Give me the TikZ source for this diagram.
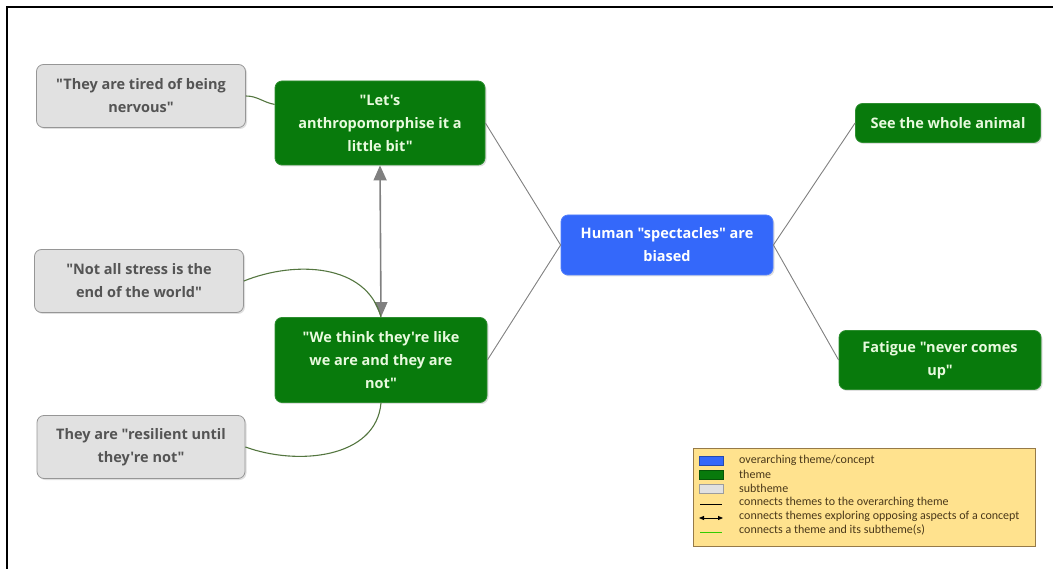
\documentclass[tikz,border=0pt]{standalone}
\usepackage{fontspec}
\setmainfont{Open Sans}[Ligatures=TeXOff]
\newfontfamily\keyfont{Carlito}
\usetikzlibrary{arrows.meta}
\usetikzlibrary{shadows}

\definecolor{themegreen}{RGB}{8,122,12}
\definecolor{themetext}{RGB}{232,250,222}
\definecolor{mainblue}{RGB}{52,104,250}
\definecolor{subgray}{RGB}{225,225,225}
\definecolor{subedge}{RGB}{150,150,150}
\definecolor{subtext}{RGB}{84,84,84}
\definecolor{linkgray}{RGB}{128,128,128}
\definecolor{sublinkgreen}{RGB}{84,118,64}
\definecolor{legendfill}{RGB}{255,226,142}
\definecolor{legendedge}{RGB}{150,122,72}
\definecolor{legendtext}{RGB}{74,56,26}

\begin{document}
\begin{tikzpicture}[
      x=1pt, y=-1pt,
      box/.style={rounded corners=7pt, line width=0.8pt, align=center,
        inner sep=0pt, font=\bfseries\fontsize{14.5}{23}\selectfont,
        drop shadow={opacity=0.25, shadow xshift=1.5pt, shadow yshift=-1.5pt}},
      theme/.style={box, fill=themegreen, draw=themegreen!85!white, text=themetext},
      subtheme/.style={box, fill=subgray, draw=subedge, text=subtext},
      overarching/.style={box, fill=mainblue, draw=mainblue!85!white, text=white},
      link/.style={draw=linkgray, line width=0.9pt},
      sublink/.style={draw=sublinkgreen, line width=1.1pt},
      opposing/.style={draw=linkgray, line width=1.6pt,
        {Triangle[width=13pt,length=15pt]}-{Triangle[width=13pt,length=15pt]}},
      swatch/.style={draw=#1!70!black, fill=#1, minimum width=24pt, minimum height=9pt, inner sep=0pt},
      legendrow/.style={anchor=west, inner sep=0pt, text=legendtext, font=\keyfont\fontsize{12}{13}\selectfont}
    ]
    \useasboundingbox (0,0) rectangle (1053,569);
    % frame
    \draw[line width=2pt] (7,569) -- (7,7) -- (1053,7);

    % overarching theme and themes
    \node[overarching, minimum width=212pt, minimum height=60pt] (humanbox) at (667,245)
      {Human "spectacles" are\\biased};
    \node[theme, minimum width=210pt, minimum height=84pt] (letsbox) at (380,123)
      {"Let's\\anthropomorphise it a\\little bit"};
    \node[theme, minimum width=212pt, minimum height=85pt] (thinkbox) at (381,360)
      {"We think they're like\\we are and they are\\not"};
    \node[theme, minimum width=185pt, minimum height=39pt] (wholebox) at (948,123)
      {See the whole animal};
    \node[theme, minimum width=202pt, minimum height=59pt] (fatiguebox) at (940,360)
      {Fatigue "never comes\\up"};

    % subthemes
    \node[subtheme, minimum width=209pt, minimum height=63pt] (tiredsub) at (141,96)
      {"They are tired of being\\nervous"};
    \node[subtheme, minimum width=209pt, minimum height=63pt] (stresssub) at (139,281)
      {"Not all stress is the\\end of the world"};
    \node[subtheme, minimum width=208pt, minimum height=63pt] (resilientsub) at (141,447)
      {They are "resilient until\\they're not"};

    % connectors
    \draw[link] (letsbox.east) -- (humanbox.west);
    \draw[link] (thinkbox.east) -- (humanbox.west);
    \draw[link] (humanbox.east) -- (wholebox.west);
    \draw[link] (humanbox.east) -- (fatiguebox.west);
    \draw[opposing] (letsbox.south) -- (thinkbox.north);
    \draw[sublink] (tiredsub.east) to[out=0, in=170] (letsbox.170);
    \draw[sublink] (stresssub.east) to[out=22, in=105] (thinkbox.north);
    \draw[sublink] (resilientsub.east) to[out=-20, in=-95] (thinkbox.south);

    % legend
    \node[draw=legendedge, fill=legendfill, line width=0.8pt, minimum width=342pt,
      minimum height=98pt, inner sep=0pt] (legend) at (864,497) {};
    \node[swatch=mainblue] (bluekey) at (711,461) {};
    \node[swatch=themegreen] (greenkey) at (711,475) {};
    \node[swatch=subgray] (graykey) at (711,489) {};
    \coordinate (linkkeyA) at (700,504);
    \coordinate (linkkeyB) at (722,504);
    \coordinate (arrowkeyA) at (699,518);
    \coordinate (arrowkeyB) at (723,518);
    \coordinate (subkeyA) at (700,532);
    \coordinate (subkeyB) at (722,532);
    \draw[black, line width=0.6pt] (linkkeyA) -- (linkkeyB);
    \draw[black, line width=0.8pt, {Triangle[width=4pt,length=5pt]}-{Triangle[width=4pt,length=5pt]}] (arrowkeyA) -- (arrowkeyB);
    \draw[green!60!olive, line width=0.8pt] (subkeyA) -- (subkeyB);
    \foreach \row/\txt in {0/overarching theme\slash concept, 1/theme, 2/subtheme,
        3/connects themes to the overarching theme,
        4/connects themes exploring opposing aspects of a concept,
        5/connects a theme and its subtheme(s)}
      \node[legendrow] (legendtxt\row) at (739,460+14*\row) {\txt};
\end{tikzpicture}
\end{document}
